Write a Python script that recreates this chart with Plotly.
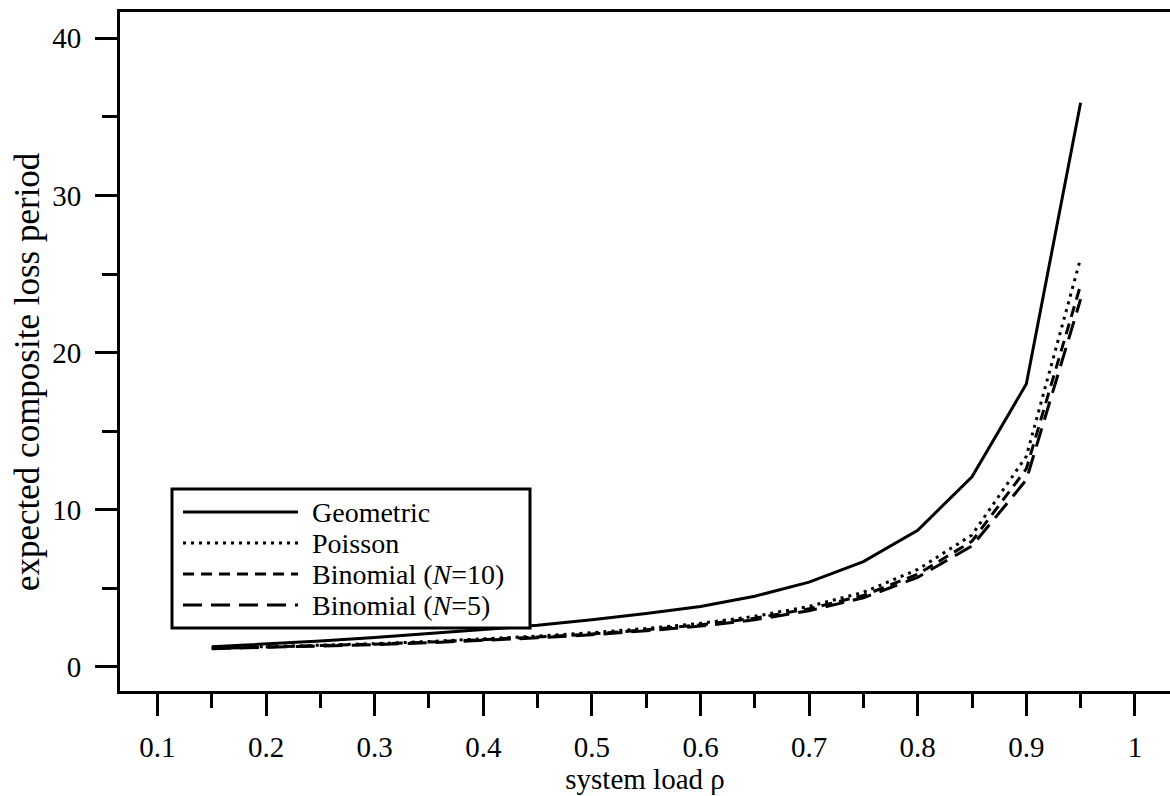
import plotly.graph_objects as go

# system load values
rho = [0.15, 0.20, 0.25, 0.30, 0.35, 0.40, 0.45, 0.50, 0.55,
       0.60, 0.65, 0.70, 0.75, 0.80, 0.85, 0.90, 0.95]

# expected composite loss period for each arrival model
geometric = [1.28, 1.45, 1.65, 1.88, 2.12, 2.38, 2.65, 3.00, 3.40,
             3.85, 4.50, 5.40, 6.70, 8.70, 12.1, 18.0, 35.9]
poisson = [1.20, 1.29, 1.38, 1.48, 1.62, 1.78, 1.96, 2.18, 2.45,
           2.78, 3.22, 3.85, 4.75, 6.20, 8.40, 13.4, 26.0]
binomial_10 = [1.18, 1.26, 1.35, 1.45, 1.58, 1.73, 1.90, 2.10, 2.36,
               2.68, 3.10, 3.70, 4.55, 5.90, 8.00, 12.6, 24.3]
binomial_5 = [1.16, 1.24, 1.32, 1.42, 1.54, 1.68, 1.85, 2.05, 2.30,
              2.60, 3.00, 3.58, 4.40, 5.70, 7.70, 11.9, 23.4]

x_tickvals = [0.1, 0.2, 0.3, 0.4, 0.5, 0.6, 0.7, 0.8, 0.9, 1.0]
x_ticktext = ["0.1", "0.2", "0.3", "0.4", "0.5", "0.6", "0.7", "0.8", "0.9", "1"]
y_tickvals = [0, 10, 20, 30, 40]
y_ticktext = ["0", "10", "20", "30", "40"]

series_names = ["Geometric", "Poisson",
                "Binomial (<i>N</i>=10)", "Binomial (<i>N</i>=5)"]
series_values = [geometric, poisson, binomial_10, binomial_5]
series_dashes = ["solid", "3px,5px", "11px,7px", "19px,9px"]

FONT = "Liberation Serif, Times New Roman, serif"
W, H = 1170, 796
ML, MR, MT, MB = 120, 0, 12, 105
PW, PH = W - ML - MR, H - MT - MB


def px_x(px):
    """Pixel column -> paper x."""
    return (px - ML) / PW


def px_y(py):
    """Pixel row -> paper y."""
    return 1 - (py - MT) / PH


fig = go.Figure()
for name, vals, dash in zip(series_names, series_values, series_dashes):
    fig.add_trace(go.Scatter(
        x=rho, y=vals, name=name, mode="lines", showlegend=False,
        line=dict(color="black", width=3, dash=dash),
    ))

# boxed key in the lower-left corner of the frame
box_l, box_r, box_t, box_b = 172, 530, 489, 628
row_top, row_gap = 512, 31
sample_l, sample_r, text_l = 183, 298, 311

shapes = [dict(type="rect", xref="paper", yref="paper",
               x0=px_x(box_l), x1=px_x(box_r), y0=px_y(box_b), y1=px_y(box_t),
               line=dict(color="black", width=3), fillcolor="white", layer="above")]
annotations = []
for i, (name, dash) in enumerate(zip(series_names, series_dashes)):
    ry = row_top + i * row_gap
    shapes.append(dict(type="line", xref="paper", yref="paper",
                       x0=px_x(sample_l), x1=px_x(sample_r),
                       y0=px_y(ry), y1=px_y(ry), layer="above",
                       line=dict(color="black", width=3, dash=dash)))
    annotations.append(dict(xref="paper", yref="paper", x=px_x(text_l), y=px_y(ry),
                            xanchor="left", yanchor="middle", showarrow=False,
                            borderpad=0,
                            text=name, font=dict(family=FONT, size=28, color="black")))

# vertical axis label
annotations.append(dict(xref="paper", yref="paper", x=px_x(27), y=px_y(372),
                        xanchor="center", yanchor="middle", showarrow=False,
                        textangle=-90, text="expected composite loss period",
                        font=dict(family=FONT, size=35, color="black")))

fig.update_layout(
    width=W, height=H,
    margin=dict(l=ML, r=MR, t=MT, b=MB),
    paper_bgcolor="white", plot_bgcolor="white",
    font=dict(family=FONT, color="black", size=29),
    showlegend=False,
    shapes=shapes,
    annotations=annotations,
)

fig.update_xaxes(
    range=[0.0655, 1.0323],
    showgrid=False, zeroline=False,
    showline=True, linecolor="black", linewidth=3, mirror=True,
    ticks="outside", ticklen=22, tickwidth=3, tickcolor="black",
    tickvals=x_tickvals, ticktext=x_ticktext,
    ticklabelstandoff=6,
    minor=dict(tick0=0.05, dtick=0.1, ticks="outside", ticklen=14,
               tickwidth=3, tickcolor="black", showgrid=False),
    title=dict(text="system load ρ", font=dict(family=FONT, size=29),
               standoff=0),
)
fig.update_yaxes(
    range=[-1.53, 41.67],
    showgrid=False, zeroline=False,
    showline=True, linecolor="black", linewidth=3, mirror=False,
    ticks="outside", ticklen=22, tickwidth=3, tickcolor="black",
    tickvals=y_tickvals, ticktext=y_ticktext,
    ticklabelstandoff=8,
    minor=dict(tick0=5, dtick=10, ticks="outside", ticklen=15,
               tickwidth=3, tickcolor="black", showgrid=False),
)

fig.write_html("out.html")
